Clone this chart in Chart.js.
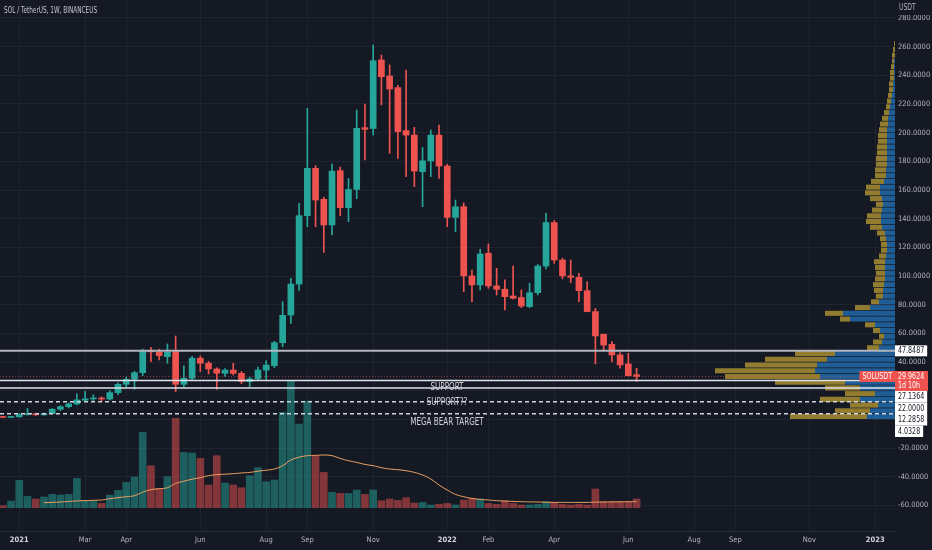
<!DOCTYPE html>
<html>
<head>
<meta charset="utf-8">
<title>SOL / TetherUS 1W</title>
<script src="https://cdn.jsdelivr.net/npm/chart.js@4.4.0/dist/chart.umd.min.js"></script>
<style>
  html, body { margin: 0; padding: 0; background: #151924; }
  #wrap { position: relative; width: 932px; height: 550px; }
  #wrap canvas { position: absolute; left: 0; top: 0; }
</style>
</head>
<body>
<div id="wrap">
  <canvas id="main" width="932" height="550"></canvas>
  <canvas id="profile" width="932" height="550"></canvas>
</div>
<script>
// weekly bars, slot 0 = week of 28 Dec 2020
const firstSlot = -1;
const opens  = [1.7, 1.4, 1.8, 3.4, 3.6, 3.2, 4.0, 7.1, 8.9, 10.8, 13.4, 14.3, 14.9, 14.2, 18.7, 24.5, 28.0, 32.6, 48.0, 47.1,
                43.8, 47.4, 24.5, 28.7, 42.7, 39.2, 35.2, 32.2, 34.4, 32.2, 26.4, 28.3, 34.4, 37.5, 53.5, 72.8, 94.4, 142.1, 175.1, 153.5,
                135.6, 173.5, 147.7, 160.4, 203.5, 202.9, 250.7, 239.5, 231.4, 201.4, 198.3, 172.8, 180.3, 198.3, 176.7, 140.9, 148.4, 100.1, 93.8, 115.9,
                93.1, 90.8, 86.1, 85.0, 78.7, 88.4, 107.0, 137.3, 111.2, 100.1, 99.1, 89.8, 75.2, 59.4, 52.4, 45.0, 38.7, 31.2];
const highs  = [1.8, 1.9, 4.0, 7.6, 4.0, 4.5, 7.6, 9.6, 11.5, 17.8, 19.6, 17.2, 15.8, 20.0, 25.5, 29.5, 33.5, 49.0, 50.3, 49.0,
                52.6, 58.2, 37.3, 44.0, 44.3, 40.5, 36.0, 35.5, 39.2, 33.5, 29.5, 36.5, 41.0, 54.5, 82.1, 98.4, 150.7, 216.9, 177.0, 155.0,
                178.1, 176.0, 168.1, 215.8, 220.0, 261.1, 254.1, 247.2, 233.0, 243.7, 203.7, 189.7, 201.8, 205.3, 178.0, 153.0, 151.0, 104.2, 118.7, 122.4,
                105.4, 97.3, 107.0, 90.3, 95.0, 108.0, 143.8, 138.7, 112.4, 111.2, 101.9, 96.0, 77.5, 59.5, 54.3, 46.6, 46.1, 35.7];
const lows   = [1.2, 1.3, 1.6, 3.0, 2.9, 3.0, 3.8, 6.2, 8.0, 10.2, 12.4, 13.2, 12.9, 13.5, 17.2, 22.5, 21.0, 30.5, 40.3, 41.5,
                39.2, 19.4, 22.5, 27.5, 33.4, 31.7, 21.0, 30.0, 31.0, 25.0, 22.8, 27.5, 28.0, 36.0, 50.7, 67.0, 90.0, 134.4, 134.4, 116.5,
                128.6, 142.0, 137.9, 154.0, 180.9, 198.3, 219.3, 185.6, 182.1, 169.3, 162.3, 148.3, 169.3, 168.1, 134.4, 130.9, 89.1, 82.2, 90.3, 91.5,
                86.8, 76.3, 84.0, 78.0, 78.0, 86.8, 105.0, 108.9, 98.0, 95.4, 82.2, 75.0, 38.7, 48.5, 40.3, 35.7, 30.3, 26.4];
const closes = [1.4, 1.8, 3.4, 3.6, 3.2, 4.0, 7.1, 8.9, 10.8, 13.6, 14.3, 14.9, 14.2, 18.7, 24.5, 28.0, 32.6, 48.0, 47.1, 44.5,
                46.9, 24.5, 28.7, 42.7, 39.2, 35.2, 32.2, 34.4, 32.2, 26.4, 28.3, 34.4, 37.9, 53.5, 72.6, 94.4, 142.1, 175.1, 153.0, 135.6,
                173.2, 147.7, 160.4, 203.0, 202.3, 250.2, 239.0, 230.4, 200.7, 198.3, 173.2, 180.4, 198.3, 176.7, 140.9, 148.3, 100.1, 93.8, 115.4, 93.1,
                90.8, 85.6, 84.5, 79.1, 88.4, 107.0, 137.3, 111.2, 100.1, 99.1, 89.8, 75.2, 58.2, 51.9, 45.0, 38.0, 30.5, 29.96];
// volume (relative units)
const volumes = [2, 6.7, 27.3, 11.3, 8.7, 10.7, 13.3, 12.7, 13.3, 29.3, 7.3, 7.3, 4.3, 12.7, 17.3, 25.3, 30.7, 75.3, 42, 19.3,
                 31, 89.3, 55.3, 54.7, 49.3, 22.7, 52, 24.7, 22.7, 20, 32, 40, 26, 27.7, 95.3, 126.7, 83.7, 106.7, 52, 35.3,
                 15.3, 14.3, 14.3, 17.7, 13.3, 17.7, 7, 8.7, 7.3, 10, 4.7, 5.3, 2.7, 3.3, 4.3, 2.7, 7.7, 9.3, 8.7, 4.3,
                 3.3, 6.7, 4.3, 2.7, 2.7, 3.3, 6, 5.3, 3.3, 2.7, 3.3, 2.7, 18.7, 6, 6, 6, 6, 8.7];
const volumeMA = [null, null, null, null, null, 5, 5.3, 5.7, 6.2, 6.8, 7.1, 7.4, 7.7, 9, 10, 11, 12, 15.5, 18, 19,
                  20, 24.3, 26.5, 28.5, 30, 32, 33, 33.5, 34, 34.7, 35.3, 36.5, 37.5, 38.7, 42, 47.7, 50.5, 52, 52.3, 52.7,
                  52, 49.3, 47, 45.3, 43.3, 42, 40, 38.7, 38, 37, 35.3, 32.7, 28.7, 22.7, 17.7, 13.3, 11, 9.3, 8.3, 7.7,
                  7, 6.7, 6.3, 6, 5.8, 5.7, 5.5, 5.3, 5.3, 5.3, 5.3, 5.3, 5.6, 5.7, 5.8, 5.9, 6, 6];

const timeTickSlots  = [1, 9, 14, 23, 31, 36, 44, 53, 58, 66, 75, 83, 88, 97, 105];
const timeTickLabels = ['2021', 'Mar', 'Apr', 'Jun', 'Aug', 'Sep', 'Nov', '2022', 'Feb', 'Apr', 'Jun', 'Aug', 'Sep', 'Nov', '2023'];
const priceTicks = [-60, -40, -20, 0, 20, 40, 60, 80, 100, 120, 140, 160, 180, 200, 220, 240, 260, 280];

const levelPrices = [47.8487, 27.1364, 22.0, 12.2858, 4.0328];
const lastPrice = 29.9624;

// visible range volume profile rows (price centre, up volume, down volume)
const profileLevels = [2, 6, 10, 14, 18, 22, 26, 30, 34, 38, 42, 46, 50, 54, 58, 62, 66, 70, 74, 78,
                       82, 86, 90, 94, 98, 102, 106, 110, 114, 118, 122, 126, 130, 134, 138, 142, 146, 150, 154, 158,
                       162, 166, 170, 174, 178, 182, 186, 190, 194, 198, 202, 206, 210, 214, 218, 222, 226, 230, 234, 238,
                       242, 246, 250, 254, 258, 262];
const profileUp   = [28, 25, 17, 35, 20, 35, 50, 75, 80, 78, 68, 60, 16, 13, 11, 15, 20, 45, 52, 25,
                     16, 12, 12, 11, 10, 10, 10, 10, 9, 8, 8, 9, 10, 13, 14, 14, 13, 12, 13, 15,
                     15, 11, 9, 9, 8, 8, 8, 8, 8, 8, 8, 7, 7, 6, 5, 4, 3, 2, 2, 1,
                     1, 1, 1, 0, 0, 0];
const profileDown = [77, 35, 28, 40, 30, 35, 70, 95, 100, 72, 62, 40, 12, 9, 5, 7, 10, 10, 18, 15,
                     8, 7, 9, 11, 10, 9, 10, 11, 7, 6, 6, 6, 8, 12, 15, 14, 10, 7, 12, 15,
                     14, 13, 11, 11, 11, 11, 10, 10, 9, 9, 8, 8, 6, 5, 4, 4, 4, 4, 4, 4,
                     4, 3, 2, 3, 2, 1];

const FONT = "'DejaVu Sans Condensed', 'DejaVu Sans', sans-serif";
const BG = '#151924';
const GRID = 'rgba(42,46,57,0.5)';
const UP = '#26a69a';
const DOWN = '#ef5350';
const xMin = -1.34, xMax = 107.4;
const yMin = -77.8, yMax = 292.5;

Chart.defaults.font.family = FONT;
Chart.defaults.color = '#b2b5be';

var candleColor = closes.map(function (c, i) { return c >= opens[i] ? UP : DOWN; });
var volColor = closes.map(function (c, i) { return c >= opens[i] ? 'rgba(38,166,154,0.5)' : 'rgba(239,83,80,0.5)'; });

var wickData = highs.map(function (h, i) { return { x: firstSlot + i, y: [lows[i], h] }; });
var bodyData = opens.map(function (o, i) { return { x: firstSlot + i, y: [o, closes[i]] }; });
var volData = volumes.map(function (v, i) { return { x: firstSlot + i, y: [0, v] }; });
var maData = volumeMA.map(function (v, i) { return { x: firstSlot + i, y: v }; });

function isYear(label) { return /^\d{4}$/.test(label); }

// narrow text, the screenshot font is condensed
function narrowText(ctx, text, x, y, size, align, sx) {
    ctx.save();
    ctx.font = size + 'px ' + FONT;
    ctx.translate(x, y);
    ctx.scale(sx, 1);
    ctx.textAlign = align;
    ctx.textBaseline = 'middle';
    ctx.fillText(text, 0, 0);
    ctx.restore();
}
function narrowWidth(ctx, text, size, sx) {
    ctx.save();
    ctx.font = size + 'px ' + FONT;
    var w = ctx.measureText(text).width * sx;
    ctx.restore();
    return w;
}

var bgPlugin = {
    id: 'bg',
    beforeDraw: function (chart) {
        var ctx = chart.ctx;
        ctx.save();
        ctx.fillStyle = BG;
        ctx.fillRect(0, 0, chart.width, chart.height);
        ctx.restore();
    }
};

new Chart(document.getElementById('main'), {
    type: 'bar',
    data: {
        datasets: [
            { type: 'bar', data: volData, yAxisID: 'yv', backgroundColor: volColor, barThickness: 7, grouped: false, order: 4 },
            { type: 'line', data: maData, yAxisID: 'yv', borderColor: '#f0a262', borderWidth: 1, pointRadius: 0, tension: 0.4, order: 3 },
            { type: 'bar', data: wickData, yAxisID: 'y', backgroundColor: candleColor, barThickness: 1, grouped: false, order: 2 },
            { type: 'bar', data: bodyData, yAxisID: 'y', backgroundColor: candleColor, barThickness: 6, minBarLength: 1, grouped: false, order: 1 }
        ]
    },
    options: {
        responsive: false,
        animation: false,
        events: [],
        layout: { padding: 0 },
        plugins: { legend: { display: false }, tooltip: { enabled: false } },
        scales: {
            x: {
                type: 'linear', min: xMin, max: xMax, offset: false,
                grid: { color: GRID, drawTicks: false, offset: false },
                border: { color: '#2a2e39' },
                afterBuildTicks: function (s) { s.ticks = timeTickSlots.map(function (v) { return { value: v }; }); },
                afterFit: function (s) { s.height = 19; s.paddingLeft = 0; s.paddingRight = 0; },
                ticks: {
                    autoSkip: false, maxRotation: 0, padding: 5,
                    callback: function (v, i) { return timeTickLabels[i]; },
                    font: function (c) { return { size: 7.5, weight: isYear(timeTickLabels[c.index]) ? 'bold' : 'normal' }; },
                    color: function (c) { return isYear(timeTickLabels[c.index]) ? '#d1d4dc' : '#b2b5be'; }
                }
            },
            y: {
                type: 'linear', position: 'right', min: yMin, max: yMax,
                grid: { color: GRID, drawTicks: false },
                border: { display: false },
                afterBuildTicks: function (s) { s.ticks = priceTicks.map(function (v) { return { value: v }; }); },
                afterFit: function (s) { s.width = 37; s.paddingTop = 0; s.paddingBottom = 0; },
                ticks: { padding: 3, font: { size: 7.5 }, color: '#b2b5be', callback: function (v) { return v.toFixed(4); } }
            },
            yv: { type: 'linear', display: false, min: -23.3, max: 507.7 }
        }
    },
    plugins: [bgPlugin]
});

var overlayPlugin = {
    id: 'overlay',
    afterDraw: function (chart) {
        var ctx = chart.ctx;
        var ys = chart.scales.y;
        var area = chart.chartArea;
        ctx.save();

        function hline(v, color, w, dash) {
            var py = ys.getPixelForValue(v);
            ctx.beginPath();
            ctx.setLineDash(dash || []);
            ctx.strokeStyle = color;
            ctx.lineWidth = w;
            ctx.moveTo(area.left, py);
            ctx.lineTo(area.right, py);
            ctx.stroke();
        }
        hline(lastPrice, 'rgba(239,83,80,0.55)', 1, [1, 2]);
        hline(levelPrices[0], '#b2b5be', 2);
        hline(levelPrices[1], '#e0e3eb', 1.5);
        hline(levelPrices[2], '#e0e3eb', 1.5);
        hline(levelPrices[3], '#d1d4dc', 1.5, [4, 3]);
        hline(levelPrices[4], '#d1d4dc', 1.5, [4, 3]);
        ctx.setLineDash([]);

        // drawing texts
        ctx.fillStyle = '#d1d4dc';
        narrowText(ctx, 'SUPPORT', 447, ys.getPixelForValue(levelPrices[2]) - 0.5, 10, 'center', 0.8);
        narrowText(ctx, 'SUPPORT??', 447, ys.getPixelForValue(levelPrices[3]) + 0.5, 10, 'center', 0.8);
        narrowText(ctx, 'MEGA BEAR TARGET', 447, ys.getPixelForValue(levelPrices[4]) + 9, 10, 'center', 0.8);

        // title
        ctx.fillStyle = '#c3c6ce';
        narrowText(ctx, 'SOL / TetherUS, 1W, BINANCEUS', 4, 11, 8, 'left', 0.8);

        // price scale header
        ctx.fillStyle = BG;
        ctx.fillRect(area.right, 0, chart.width - area.right, 15);
        ctx.fillStyle = '#b2b5be';
        narrowText(ctx, 'USDT', area.right + 4, 8, 8, 'left', 0.85);

        // price scale labels
        function box(text, top, h, bg, fg, right) {
            var w = narrowWidth(ctx, text, 8, 0.88) + 6;
            var x0 = right === undefined ? area.right : right - w;
            ctx.fillStyle = bg;
            ctx.fillRect(x0, top, w, h);
            ctx.fillStyle = fg;
            narrowText(ctx, text, x0 + 3, top + h / 2 + 0.5, 8, 'left', 0.88);
        }
        var c0 = ys.getPixelForValue(levelPrices[0]);
        box(levelPrices[0].toFixed(4), c0 - 5.5, 11, '#ffffff', '#131722');

        var cp = ys.getPixelForValue(lastPrice);
        var rTop = cp - 5.5;
        box('SOLUSDT', rTop, 11, DOWN, '#ffffff', area.right);
        ctx.fillStyle = DOWN;
        ctx.fillRect(area.right, rTop, 33, 20);
        ctx.fillStyle = '#ffffff';
        narrowText(ctx, lastPrice.toFixed(4), area.right + 3, rTop + 6, 8, 'left', 0.88);
        narrowText(ctx, '1d 10h', area.right + 3, rTop + 15, 8, 'left', 0.88);

        var cursor = rTop + 20;
        for (var i = 1; i < levelPrices.length; i++) {
            var top = Math.max(ys.getPixelForValue(levelPrices[i]) - 5.75, cursor);
            box(levelPrices[i].toFixed(4), top, 11.5, '#ffffff', '#131722');
            cursor = top + 11.5;
        }
        ctx.restore();
    }
};

new Chart(document.getElementById('profile'), {
    type: 'bar',
    data: {
        datasets: [
            { data: profileUp.map(function (v, i) { return { x: v, y: profileLevels[i] }; }), backgroundColor: '#1f5d96' },
            { data: profileDown.map(function (v, i) { return { x: v, y: profileLevels[i] }; }), backgroundColor: '#917c30' }
        ]
    },
    options: {
        indexAxis: 'y',
        responsive: false,
        animation: false,
        events: [],
        layout: { padding: { left: 0, top: 0, right: 37, bottom: 19 } },
        plugins: { legend: { display: false }, tooltip: { enabled: false } },
        datasets: { bar: { categoryPercentage: 1, barPercentage: 0.88 } },
        scales: {
            x: { type: 'linear', display: false, reverse: true, min: 0, max: 895, stacked: true },
            y: { type: 'linear', display: false, min: yMin, max: yMax, stacked: true, offset: false }
        }
    },
    plugins: [overlayPlugin]
});
</script>
</body>
</html>
